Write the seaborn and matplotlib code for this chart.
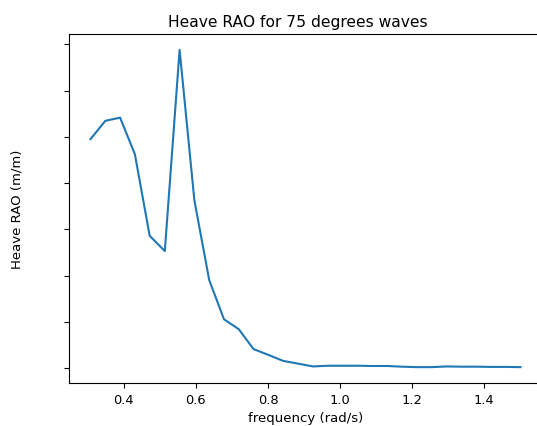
import matplotlib
matplotlib.use("Agg")
import matplotlib.pyplot as plt
import seaborn as sns

# --------------------------------------------------------------
# Data
# --------------------------------------------------------------
frequency = [
    0.308, 0.349, 0.390, 0.431, 0.472, 0.514, 0.555, 0.596, 0.637, 0.678,
    0.719, 0.760, 0.801, 0.842, 0.884, 0.925, 0.966, 1.007, 1.048, 1.089,
    1.130, 1.171, 1.212, 1.254, 1.295, 1.336, 1.377, 1.418, 1.459, 1.500,
]
heave_rao = [
    0.990, 1.069, 1.083, 0.925, 0.572, 0.506, 1.376, 0.725, 0.381, 0.211,
    0.168, 0.082, 0.057, 0.031, 0.019, 0.007, 0.010, 0.010, 0.010, 0.009,
    0.009, 0.006, 0.004, 0.004, 0.007, 0.006, 0.006, 0.005, 0.005, 0.004,
]

# --------------------------------------------------------------
# Plot
# --------------------------------------------------------------
fig = plt.figure(figsize=(5.37, 4.27), dpi=100)
ax = fig.add_axes([0.1285, 0.1007, 0.8808, 0.8173])

sns.lineplot(x=frequency, y=heave_rao, color="#1f77b4", linewidth=1.5, ax=ax)

ax.set_title("Heave RAO for 75 degrees waves", fontsize=11.2, x=0.483)
ax.set_xlabel("frequency (rad/s)", fontsize=9.5)
ax.set_ylabel("Heave RAO (m/m)", fontsize=9.5)
ax.tick_params(labelsize=9.4)
ax.set_yticklabels([])
ax.yaxis.set_label_coords(-0.097, 0.5)

plt.savefig("out.png", dpi=100)
